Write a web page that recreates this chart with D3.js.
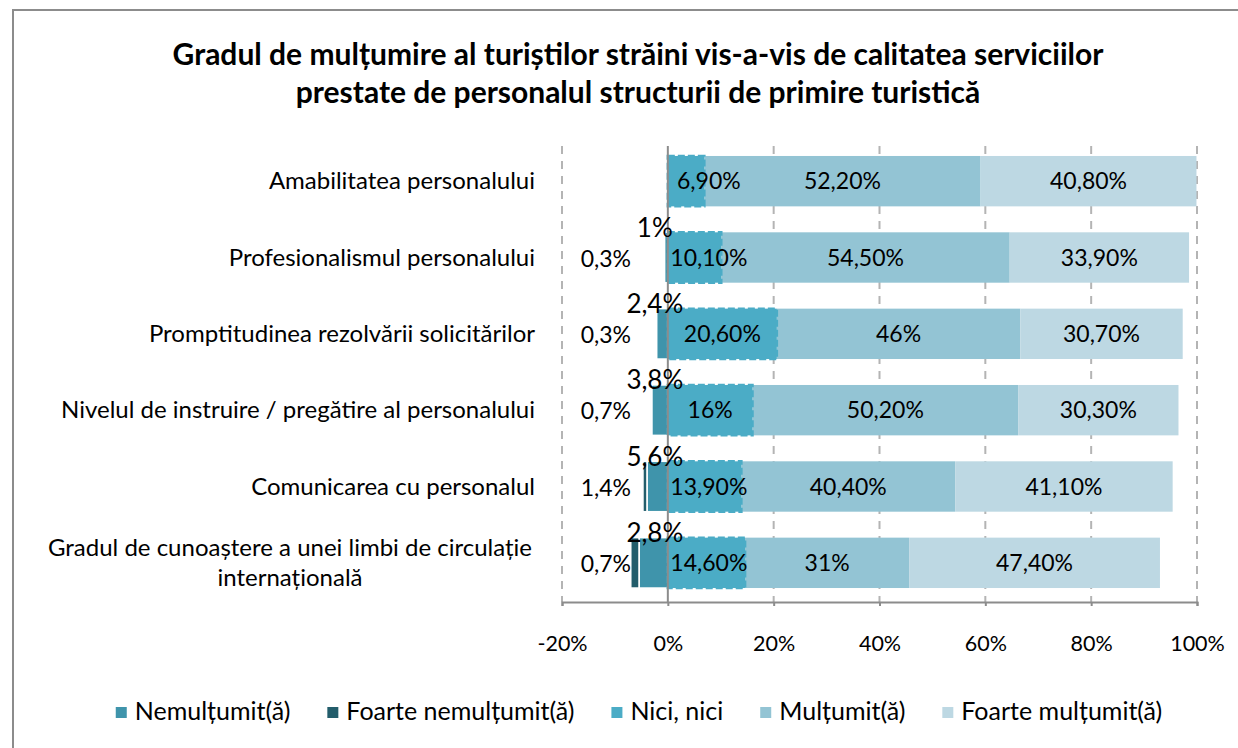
<!DOCTYPE html>
<html>
<head>
<meta charset="utf-8">
<script src="https://cdn.jsdelivr.net/npm/d3@7"></script>
<style>
  body { margin: 0; background: #fff; }
  svg text { font-family: Lato, "Open Sans", sans-serif; fill: #000; }
</style>
</head>
<body>
<div id="chart"></div>
<script>
"use strict";

/* global d3 */

const categories = [
  "Amabilitatea personalului",
  "Profesionalismul personalului",
  "Promptitudinea rezolvării solicitărilor",
  "Nivelul de instruire / pregătire al personalului",
  "Comunicarea cu personalul",
  "Gradul de cunoaștere a unei limbi de circulație|internațională"
];

// bar lengths as drawn in the picture (negative side)
const nemultumit = [0, 0.6, 2.1, 3.0, 3.9, 5.4];
const foarteNemultumit = [0, 0.1, 0.1, 0.2, 0.8, 1.6];
// labels as printed on the negative side
const nemultumitLabels = ["", "1%", "2,4%", "3,8%", "5,6%", "2,8%"];
const foarteNemultumitLabels = ["", "0,3%", "0,3%", "0,7%", "1,4%", "0,7%"];

const nici = [6.9, 10.1, 20.6, 16, 13.9, 14.6];
const multumit = [52.2, 54.5, 46, 50.2, 40.4, 31];
const foarteMultumit = [40.8, 33.9, 30.7, 30.3, 41.1, 47.4];

const xTicks = [-20, 0, 20, 40, 60, 80, 100];
const legendNames = ["Nemulțumit(ă)", "Foarte nemulțumit(ă)", "Nici, nici", "Mulțumit(ă)", "Foarte mulțumit(ă)"];
const colors = ["#3f94ab", "#235d6b", "#4bacc6", "#93c4d4", "#bdd8e3"];

const width = 1238;
const height = 748;

let svg = d3.select("#chart").append("svg")
  .attr("width", width)
  .attr("height", height);

svg.append("rect")
  .attr("x", 13).attr("y", 10)
  .attr("width", 1260).attr("height", 760)
  .attr("fill", "#fff")
  .attr("stroke", "#8c8c8c")
  .attr("stroke-width", 2);

// title
let title = svg.append("text")
  .attr("text-anchor", "middle")
  .style("font-weight", "bold")
  .style("font-size", "30px");
title.append("tspan").attr("x", 638).attr("y", 65)
  .text("Gradul de mulțumire al turiștilor străini vis-a-vis de calitatea serviciilor");
title.append("tspan").attr("x", 638).attr("y", 103)
  .text("prestate de personalul structurii de primire turistică");

let x = d3.scaleLinear().domain([-20, 100]).range([562, 1197]);
let y = d3.scaleBand().domain(d3.range(categories.length)).range([143, 601]).paddingInner(0.34).paddingOuter(0.17);

// grid
svg.append("g").selectAll("line")
  .data(xTicks.filter(d => d !== 0))
  .join("line")
  .attr("x1", d => x(d)).attr("x2", d => x(d))
  .attr("y1", 146).attr("y2", 602)
  .attr("stroke", "#b4b4b4")
  .attr("stroke-width", 2)
  .attr("stroke-dasharray", "8,7");

// axis
let axis = svg.append("g")
  .attr("transform", "translate(0,602)")
  .call(d3.axisBottom(x).tickValues(xTicks).tickSize(4).tickPadding(30).tickFormat(d => d + "%"));
axis.select(".domain").attr("stroke", "#8c8c8c").attr("stroke-width", 2);
axis.selectAll(".tick line").attr("stroke", "#8c8c8c").attr("stroke-width", 2);
axis.selectAll(".tick text").style("font-size", "21.5px").style("font-family", "Lato, sans-serif").attr("fill", "#000");

let fmt = v => Number.isInteger(v) ? v + "%" : v.toFixed(2).replace(".", ",") + "%";

let rows = categories.map((c, i) => ({ i: i, c: c }));
let bh = y.bandwidth();

// negative bars
let neg = svg.append("g");
rows.forEach(r => {
  let yy = y(r.i);
  neg.append("rect")
    .attr("x", x(-nemultumit[r.i] - foarteNemultumit[r.i]))
    .attr("y", yy)
    .attr("width", x(0) - x(-foarteNemultumit[r.i]))
    .attr("height", bh)
    .attr("fill", colors[1])
    .attr("stroke", "#fff").attr("stroke-width", 1.5);
  neg.append("rect")
    .attr("x", x(-nemultumit[r.i]))
    .attr("y", yy)
    .attr("width", x(0) - x(-nemultumit[r.i]))
    .attr("height", bh)
    .attr("fill", colors[0])
    .attr("stroke", "#fff").attr("stroke-width", 1.5);
});

// positive bars
let pos = svg.append("g");
rows.forEach(r => {
  let yy = y(r.i);
  let a = nici[r.i], b = multumit[r.i], c = foarteMultumit[r.i];
  pos.append("rect")
    .attr("x", x(a)).attr("y", yy)
    .attr("width", x(a + b) - x(a)).attr("height", bh)
    .attr("fill", colors[3]);
  pos.append("rect")
    .attr("x", x(a + b)).attr("y", yy)
    .attr("width", x(a + b + c) - x(a + b)).attr("height", bh)
    .attr("fill", colors[4]);
  pos.append("rect")
    .attr("x", x(0)).attr("y", yy)
    .attr("width", x(a) - x(0)).attr("height", bh)
    .attr("fill", colors[2])
    .attr("stroke", colors[2]).attr("stroke-width", 2.5)
    .attr("stroke-dasharray", "7,3");
});

// zero line
svg.append("line")
  .attr("x1", x(0)).attr("x2", x(0))
  .attr("y1", 146).attr("y2", 602)
  .attr("stroke", "#8c8c8c").attr("stroke-width", 2);

// data labels
let lab = svg.append("g").style("font-size", "23px");
rows.forEach(r => {
  let cy = y(r.i) + bh / 2 + 8;
  let a = nici[r.i], b = multumit[r.i], c = foarteMultumit[r.i];
  lab.append("text").attr("text-anchor", "middle")
    .attr("x", Math.max(x(a / 2), x(0) + 41)).attr("y", cy).text(fmt(a));
  lab.append("text").attr("text-anchor", "middle")
    .attr("x", x(a + b / 2)).attr("y", cy).text(fmt(b));
  lab.append("text").attr("text-anchor", "middle")
    .attr("x", x(a + b + c / 2)).attr("y", cy).text(fmt(c));
  lab.append("text").attr("text-anchor", "end")
    .attr("x", 631).attr("y", cy + 1).text(foarteNemultumitLabels[r.i]);
  lab.append("text").attr("text-anchor", "middle")
    .style("font-size", "26px")
    .attr("x", x(0) - 13).attr("y", y(r.i) + bh / 2 - 21).text(nemultumitLabels[r.i]);
});

// category labels
let cat = svg.append("g").style("font-size", "24px");
rows.forEach(r => {
  let parts = r.c.split("|");
  let cy = y(r.i) + bh / 2;
  if (parts.length === 1) {
    cat.append("text").attr("text-anchor", "end")
      .attr("x", 535).attr("y", cy + 8).text(parts[0]);
  } else {
    parts.forEach((p, k) => {
      cat.append("text").attr("text-anchor", "middle")
        .attr("x", 290).attr("y", cy - 7 + k * 30).text(p);
    });
  }
});

// legend
let leg = svg.append("g").style("font-size", "25px");
let items = legendNames.map((n, i) => {
  let g = leg.append("g");
  g.append("rect")
    .attr("x", 0).attr("y", -13).attr("width", 11).attr("height", 11)
    .attr("fill", colors[i]);
  let t = g.append("text").attr("x", 19).attr("y", 0).text(n);
  return { g: g, w: 19 + t.node().getComputedTextLength() };
});
let gap = 37;
let total = d3.sum(items, d => d.w) + gap * (items.length - 1);
let lx = 639 - total / 2;
items.forEach(it => {
  it.g.attr("transform", "translate(" + lx + ",720)");
  lx += it.w + gap;
});
</script>
</body>
</html>
